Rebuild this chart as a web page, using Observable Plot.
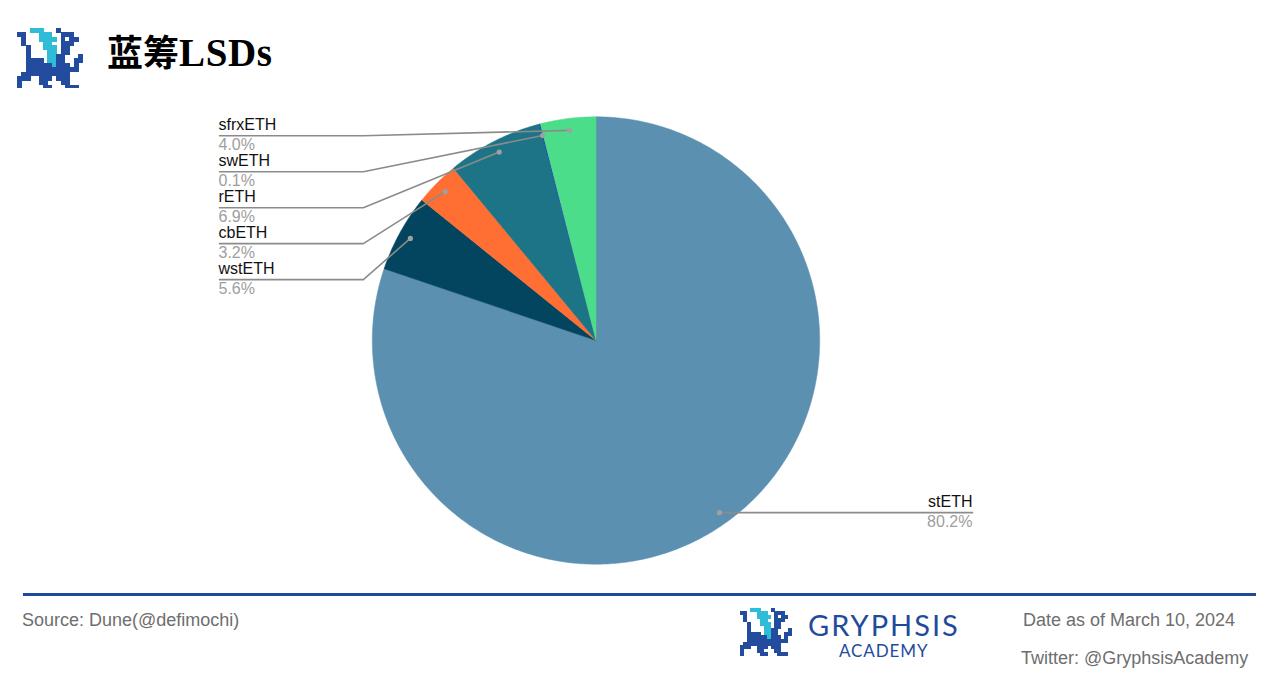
<!DOCTYPE html>
<html><head><meta charset="utf-8">
<script src="https://cdn.jsdelivr.net/npm/d3@7"></script>
<script src="https://cdn.jsdelivr.net/npm/@observablehq/plot@0.6"></script>
<style>
html,body{margin:0;padding:0;background:#fff;width:1271px;height:687px;overflow:hidden}
#page{position:relative;width:1271px;height:687px}
#page>*{position:absolute}
#chart{left:0;top:100px;width:1271px;height:490px}
#chart svg{display:block}
.t{white-space:nowrap;line-height:1;margin:0}
.foot{font:18px "Liberation Sans",Arial,sans-serif;color:#6e6e6e}
</style></head><body>
<div id="page">
<svg id="logo1" style="left:17px;top:28px" width="66" height="60" shape-rendering="crispEdges"></svg>
<h1 class="t" style="left:107px;top:33px;font:700 36px 'Liberation Serif','Noto Sans CJK SC',serif;color:#000;line-height:1">蓝筹<span style="font-size:39px;letter-spacing:.6px">LSDs</span></h1>
<div id="chart"></div>
<div style="left:23px;top:593px;width:1233px;height:3px;background:#1d4a9b"></div>
<div class="t foot" style="left:22px;top:610px">Source: Dune(@defimochi)</div>
<svg id="logo2" style="left:740px;top:608px" width="52" height="48" shape-rendering="crispEdges"></svg>
<div class="t" style="left:808px;top:607px;font:29px Lato,sans-serif;color:#1f4b9c;letter-spacing:2px">GRYPHSIS</div>
<div class="t" style="left:839px;top:640px;font:17px Lato,sans-serif;color:#1f4b9c;letter-spacing:.9px">ACADEMY</div>
<div class="t foot" style="left:1023px;top:610px">Date as of March 10, 2024</div>
<div class="t foot" style="left:1021px;top:648px">Twitter: @GryphsisAcademy</div>
</div>
<script>
const names = ["stETH","wstETH","cbETH","rETH","swETH","sfrxETH"];
const shares = [80.2,5.6,3.2,6.9,0.1,4.0];
const colors = ["#5b90b0","#03445f","#ff6e32","#1c7486","#1f4ea3","#4cdd8b"];
const labelRows = [null,4,3,2,1,0];

// Layout in radius units (1 = pie radius)
const W=1271,H=490,R=223.7,CX=595.5,CY=240;
const DOT=0.947, LABEL_X=1.683, ELBOW_X=1.04, ROW0=0.915, ROW_STEP=0.1607;

const total=d3.sum(shares);
let acc=0;
const slices=names.map((name,i)=>{
  const a0=acc/total*2*Math.PI; acc+=shares[i];
  const a1=acc/total*2*Math.PI;
  return {name,share:shares[i],a0,a1,mid:(a0+a1)/2,row:labelRows[i]};
});
const polar=(a,r)=>({x:r*Math.sin(a),y:r*Math.cos(a)});

const slicePts=slices.flatMap(s=>{
  const n=Math.max(2,Math.ceil((s.a1-s.a0)/0.01));
  return [{name:s.name,x:0,y:0},
    ...d3.range(n+1).map(k=>({name:s.name,...polar(s.a0+(s.a1-s.a0)*k/n,1)})),
    {name:s.name,x:0,y:0}];
});

const anchors=slices.map(s=>{
  const p=polar(s.mid,DOT);
  const y=s.row==null?p.y:ROW0-s.row*ROW_STEP;
  return {...s,dotX:p.x,dotY:p.y,lineY:y,
    textX:s.row==null?LABEL_X:-LABEL_X,anchor:s.row==null?"end":"start",
    pct:s.share.toFixed(1)+"%"};
});
const leaders=anchors.flatMap(a=>a.row==null
  ?[{name:a.name,x:a.dotX,y:a.dotY},{name:a.name,x:a.textX,y:a.lineY}]
  :[{name:a.name,x:a.dotX,y:a.dotY},{name:a.name,x:-ELBOW_X,y:a.lineY},{name:a.name,x:a.textX,y:a.lineY}]);

const textStyle={fontFamily:"'Liberation Sans',Arial,sans-serif",fontSize:16};
const plot=Plot.plot({
  width:W,height:H,margin:0,
  style:{background:"transparent",overflow:"visible"},
  x:{domain:[-CX/R,(W-CX)/R],range:[0,W],axis:null},
  y:{domain:[CY/R,(CY-H)/R],range:[0,H],axis:null},
  color:{domain:names,range:colors},
  marks:[
    Plot.line(slicePts,{x:"x",y:"y",z:"name",fill:"name",stroke:"name",strokeWidth:0.5}),
    Plot.line(leaders,{x:"x",y:"y",z:"name",stroke:"#8b8b8b",strokeWidth:1.6}),
    Plot.dot(anchors,{x:"dotX",y:"dotY",r:2.6,fill:"#a0a0a0",stroke:"none"}),
    ...["start","end"].flatMap(side=>{
      const rows=anchors.filter(a=>a.anchor===side);
      const dx=side==="start"?-1:0;
      return [
        Plot.text(rows,{x:"textX",y:"lineY",text:"name",textAnchor:side,dx,dy:-10.5,fill:"#111",...textStyle}),
        Plot.text(rows,{x:"textX",y:"lineY",text:"pct",textAnchor:side,dx,dy:9.5,fill:"#9e9e9e",...textStyle})
      ];
    })
  ]
});
document.getElementById("chart").append(plot);

const logoRows=[
"...LLL...D.....",
"DD...LLL..DDD..",
".D...LLLL.D.DD.",
".D....LL..DDD..",
"..D...LLL.DD...",
"..D....LL.DD...",
"..D....LLDD...D",
"..DDDD.LLDD..DD",
"..DDDDDDLDDD.D.",
"..DDDDDDDDDDDD.",
".DDDDDDDDDDD...",
"DDD..DDD.DDD...",
"D....DD...DD...",
"D.....DD...DDD."];
function drawLogo(id,size){
  const svg=d3.select("#"+id);
  logoRows.forEach((row,r)=>[...row].forEach((c,k)=>{
    if(c==='.')return;
    svg.append("rect").attr("x",k*size).attr("y",r*size).attr("width",size+.6).attr("height",size+.6)
      .attr("fill",c==='L'?"#2fbcd6":"#234b9e");
  }));
}
drawLogo("logo1",4.35);
drawLogo("logo2",3.4);
</script>
</body></html>
